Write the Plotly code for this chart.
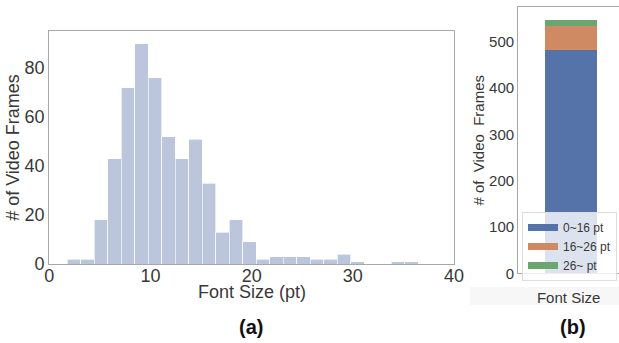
import plotly.graph_objects as go

# ---------------- data ----------------
# (a) histogram of font sizes: bin range and counts per bin
hist_range = (1.78, 36.45)
hist_counts = [2, 2, 18, 43, 72, 90, 76, 52, 43, 51, 33, 13, 18, 9,
               2, 3, 3, 3, 2, 2, 4, 1, 0, 0, 1, 1]

# (b) stacked totals by font-size group
groups = ["0~16 pt", "16~26 pt", "26~ pt"]
group_counts = [482, 51, 13]
group_colors = ["#5572a9", "#cf8a63", "#6ba56f"]

left_xticks = [0, 10, 20, 30, 40]
left_yticks = [0, 20, 40, 60, 80]
right_yticks = [0, 100, 200, 300, 400, 500]

W, H = 619, 343
FONT = "Arial, Liberation Sans, sans-serif"
TXT = "#383838"
FRAME = "#a8a8a8"

n = len(hist_counts)
bw = (hist_range[1] - hist_range[0]) / n
centers = [hist_range[0] + bw * (i + 0.5) for i in range(n)]

fig = go.Figure()

fig.add_trace(go.Bar(
    x=centers, y=hist_counts, width=[bw] * n,
    marker=dict(color="#bbc6dc", line=dict(color="rgba(255,255,255,0.8)", width=0.8)),
    xaxis="x", yaxis="y", showlegend=False,
))

for name, val, col in zip(groups, group_counts, group_colors):
    fig.add_trace(go.Bar(
        x=[0], y=[val], width=0.515, name=name,
        marker=dict(color=col, line=dict(width=0)),
        xaxis="x2", yaxis="y2", showlegend=False, legendgroup=name,
    ))
    # legend patch drawn as a thick line, matching the wide rectangles of the reference
    fig.add_trace(go.Scatter(
        x=[None], y=[None], mode="lines", name=name, legendgroup=name,
        line=dict(color=col, width=7), xaxis="x2", yaxis="y2",
    ))


def px(x):
    return x / W


def py(y):
    return 1 - y / H


common = dict(showgrid=False, zeroline=False, showline=True, linecolor=FRAME,
              linewidth=1.3, ticks="", ticklen=0, automargin=False)

fig.update_layout(
    width=W, height=H,
    margin=dict(l=0, r=0, t=0, b=0),
    paper_bgcolor="white", plot_bgcolor="white",
    barmode="stack",
    font=dict(family=FONT, color=TXT),
    xaxis=dict(domain=[px(49.3), px(454)], range=[0, 40], tickvals=left_xticks,
               mirror=True, tickfont=dict(size=18), ticklabelstandoff=-5,
               anchor="y", **common),
    yaxis=dict(domain=[py(264), py(31)], range=[0, 95.1], tickvals=left_yticks,
               mirror=True, tickfont=dict(size=18),
               title=dict(text="# of Video Frames", font=dict(size=18), standoff=0),
               anchor="x", **common),
    xaxis2=dict(domain=[px(518.3), 1.0], range=[-0.525, 0.475], showticklabels=False,
                mirror=True,
                title=dict(text="Font Size", font=dict(size=15), standoff=19),
                anchor="y2", **common),
    yaxis2=dict(domain=[py(273.3), py(7.3)], range=[0, 574], tickvals=right_yticks,
                mirror=False, tickfont=dict(size=15),
                title=dict(text="# of  Video  Frames", font=dict(size=15), standoff=0),
                anchor="x2", **common),
    legend=dict(x=px(617), y=py(212), xanchor="right", yanchor="top",
                bgcolor="rgba(255,255,255,0.8)", bordercolor="#dddddd", borderwidth=1,
                font=dict(size=12, color=TXT), itemwidth=30,
                tracegroupgap=0, traceorder="normal"),
    shapes=[dict(type="rect", xref="paper", yref="paper", layer="below",
                 x0=px(470), x1=1.0, y0=py(305), y1=py(287),
                 fillcolor="#f7f7f7", line=dict(width=0))],
    annotations=[
        dict(text="Font Size (pt)", x=px(251.5), y=py(292), xref="paper", yref="paper",
             xanchor="center", yanchor="middle",
             showarrow=False, font=dict(size=18, color=TXT)),
        dict(text="<b>(a)</b>", x=px(251), y=py(327), xref="paper", yref="paper",
             xanchor="center", yanchor="middle",
             showarrow=False, font=dict(size=20, color="#111111")),
        dict(text="<b>(b)</b>", x=px(573), y=py(327), xref="paper", yref="paper",
             xanchor="center", yanchor="middle",
             showarrow=False, font=dict(size=20, color="#111111")),
    ],
)

fig.write_html("out.html", config={"displayModeBar": False},
               post_script="document.body.style.margin='0';document.body.style.overflow='hidden';")
